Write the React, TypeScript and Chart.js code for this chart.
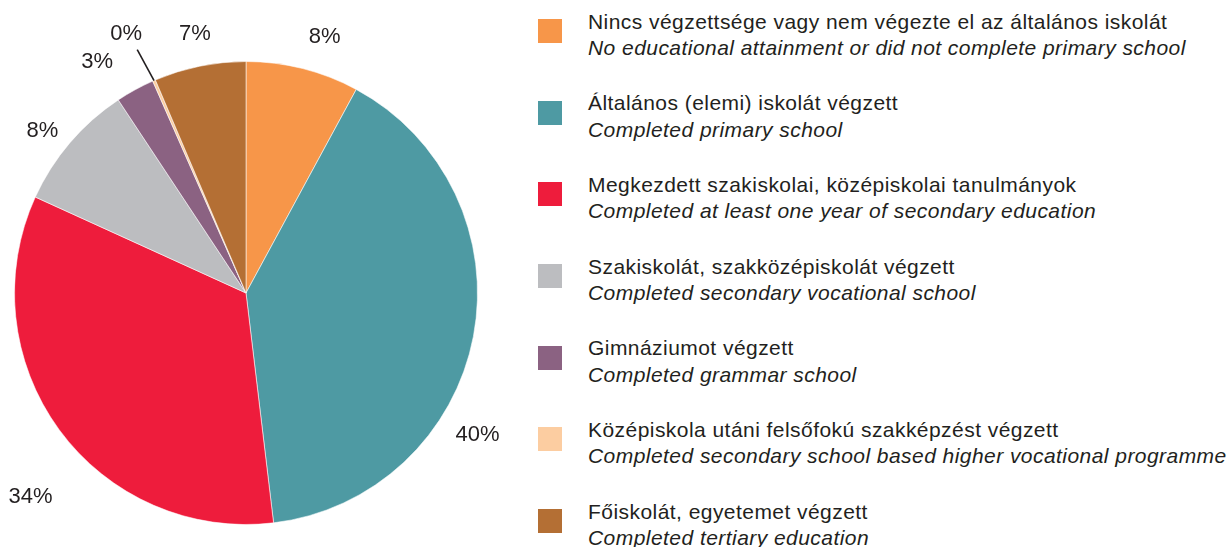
import React, { useEffect, useRef } from "react";
import { Chart, registerables } from "chart.js";

Chart.register(...registerables);

// ---- Data ----
const categoriesHu = [
  "Nincs végzettsége vagy nem végezte el az általános iskolát",
  "Általános (elemi) iskolát végzett",
  "Megkezdett szakiskolai, középiskolai tanulmányok",
  "Szakiskolát, szakközépiskolát végzett",
  "Gimnáziumot végzett",
  "Középiskola utáni felsőfokú szakképzést végzett",
  "Főiskolát, egyetemet végzett",
];
const categoriesEn = [
  "No educational attainment or did not complete primary school",
  "Completed primary school",
  "Completed at least one year of secondary education",
  "Completed secondary vocational school",
  "Completed grammar school",
  "Completed secondary school based higher vocational programme",
  "Completed tertiary education",
];
const shares = [7.9, 40.2, 33.7, 8.9, 2.7, 0.2, 6.4];
const shareLabels = ["8%", "40%", "34%", "8%", "3%", "0%", "7%"];

// ---- Styles ----
const colors = ["#F79649", "#4E9AA3", "#EE1C3C", "#BCBDC0", "#8B6282", "#FCCDA1", "#B46F34"];
const labelAngleShiftDeg = [2.9, 20.7, -7.2, -1.9, -4.2, -1.4, 0.4];
const labelRadialOffset = [36, 40, 65, 29, 43, 54, 33];
const leaderLine = [false, false, false, false, false, true, false];
const textColor = "#231F20";
const FONT = "'Liberation Sans', Arial, sans-serif";

const labelPlugin = {
  id: "pctLabels",
  afterDatasetsDraw(chart: any) {
    const ctx = chart.ctx;
    const meta = chart.getDatasetMeta(0);
    ctx.save();
    ctx.font = `22px ${FONT}`;
    ctx.fillStyle = textColor;
    ctx.textAlign = "center";
    ctx.textBaseline = "middle";
    meta.data.forEach((arc: any, i: number) => {
      const { x, y, startAngle, endAngle, outerRadius } = arc.getProps(
        ["x", "y", "startAngle", "endAngle", "outerRadius"],
        true
      );
      const mid = (startAngle + endAngle) / 2;
      if (leaderLine[i]) {
        ctx.save();
        ctx.strokeStyle = textColor;
        ctx.lineWidth = 1.6;
        ctx.beginPath();
        ctx.moveTo(x + outerRadius * Math.cos(mid), y + outerRadius * Math.sin(mid));
        const r2 = outerRadius + 35;
        ctx.lineTo(x + r2 * Math.cos(mid - 0.012), y + r2 * Math.sin(mid - 0.012));
        ctx.stroke();
        ctx.restore();
      }
      const a = mid + (labelAngleShiftDeg[i] * Math.PI) / 180;
      const r = outerRadius + labelRadialOffset[i];
      ctx.fillText(shareLabels[i], x + r * Math.cos(a), y + r * Math.sin(a));
    });
    ctx.restore();
  },
};

export default function App() {
  const canvasRef = useRef<HTMLCanvasElement | null>(null);

  useEffect(() => {
    if (!canvasRef.current) return;
    const chart = new Chart(canvasRef.current, {
      type: "pie",
      data: {
        labels: categoriesHu,
        datasets: [
          {
            data: shares,
            backgroundColor: colors,
            borderColor: "rgba(255,255,255,0.55)",
            borderWidth: 1,
          },
        ],
      },
      options: {
        animation: false,
        responsive: true,
        maintainAspectRatio: false,
        layout: { padding: { left: 14, right: 42, top: 60.5, bottom: 21.5 } },
        plugins: {
          legend: { display: false },
          tooltip: { enabled: false },
        },
      },
      plugins: [labelPlugin],
    });
    return () => chart.destroy();
  }, []);

  const step = 81.67;

  return (
    <div
      style={{
        position: "fixed",
        left: 0,
        top: 0,
        width: 1231,
        height: 547,
        background: "#fff",
        overflow: "hidden",
        fontFamily: FONT,
        color: textColor,
      }}
    >
      <div style={{ position: "absolute", left: 0, top: 0, width: 520, height: 547 }}>
        <canvas ref={canvasRef} />
      </div>
      {categoriesHu.map((hu, i) => (
        <div key={i}>
          <div
            style={{
              position: "absolute",
              left: 538,
              top: 19 + i * step,
              width: 24,
              height: 24,
              background: colors[i],
            }}
          />
          <div
            style={{
              position: "absolute",
              left: 588,
              top: 8.5 + i * step,
              fontSize: 21,
              letterSpacing: "0.45px",
              lineHeight: "26.5px",
              whiteSpace: "nowrap",
            }}
          >
            <div>{hu}</div>
            <div style={{ fontStyle: "italic" }}>{categoriesEn[i]}</div>
          </div>
        </div>
      ))}
    </div>
  );
}
